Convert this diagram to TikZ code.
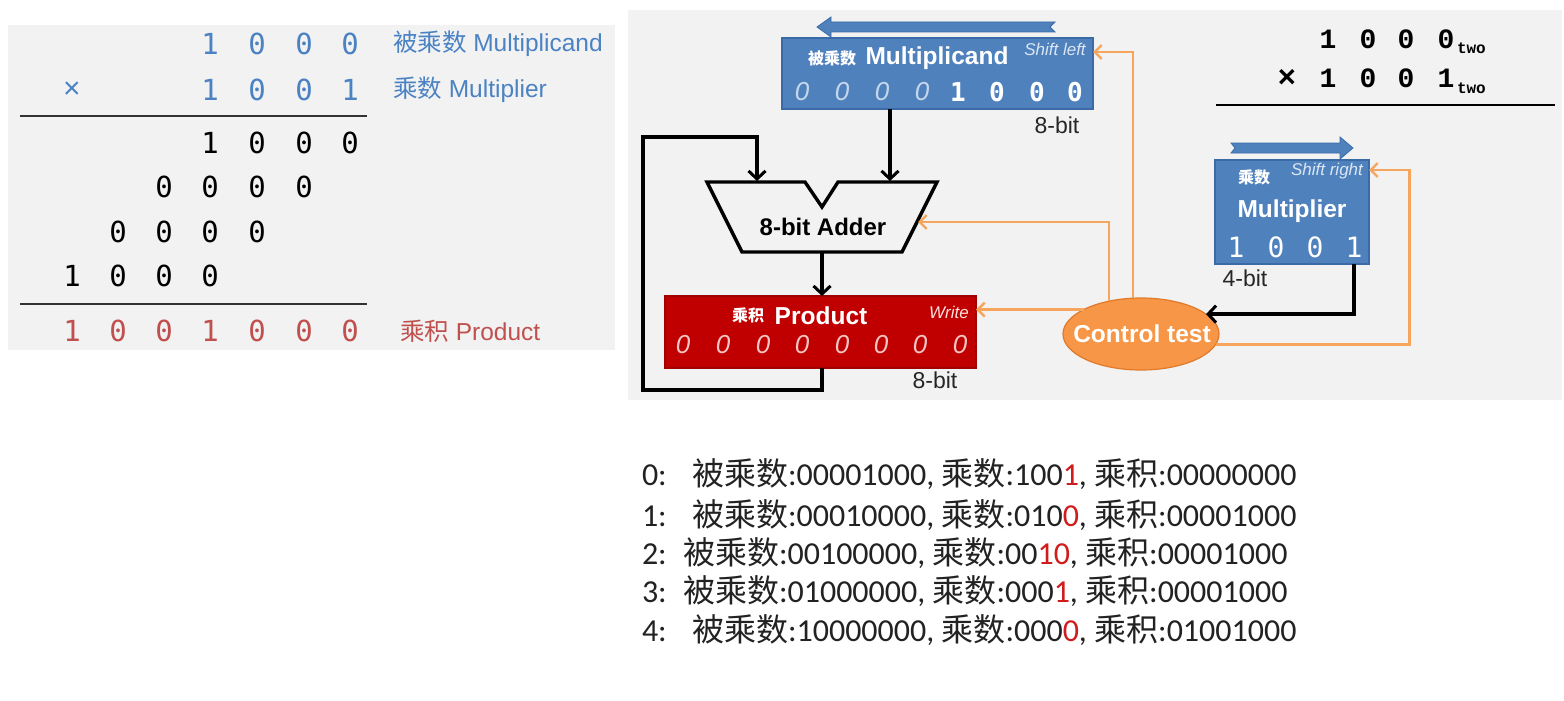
\documentclass[tikz,border=0pt]{standalone}
\usepackage{fontspec}
\setmainfont{Liberation Sans}
\newfontfamily\cjk{Noto Sans CJK SC}
\newfontfamily\monof{DejaVu Sans Mono}
\newfontfamily\courf{Liberation Mono}
\newfontfamily\calib{Carlito}
\usetikzlibrary{arrows.meta,shapes.geometric,calc}
\definecolor{bluetxt}{HTML}{4A82C3}
\definecolor{boxblue}{HTML}{4F81BD}
\definecolor{boxedge}{HTML}{3B6BA6}
\definecolor{redtxt}{HTML}{C0504D}
\definecolor{prodred}{HTML}{C00000}
\definecolor{prodedge}{HTML}{A00000}
\definecolor{ellorange}{HTML}{F79646}
\definecolor{elledge}{HTML}{E07A2A}
\definecolor{lineorange}{HTML}{F5A55C}
\definecolor{panelgray}{HTML}{F2F2F2}
\definecolor{ltblue}{HTML}{DCE6F2}
\definecolor{ltzero}{HTML}{C6D6EC}
\definecolor{ltpink}{HTML}{F2C4C4}
\definecolor{hired}{HTML}{D01C1C}
\definecolor{txtdark}{HTML}{222222}
\newcommand\fsz[1]{\fontsize{#1}{#1}\selectfont}
\newcommand\hr[1]{\textcolor{hired}{#1}}
\begin{document}
\begin{tikzpicture}[x=1pt,y=-1pt,
  every node/.style={inner sep=0pt, outer sep=0pt},
  ldig/.style={font=\monof\fsz{29}},
  bdig/.style={ldig, text=bluetxt},
  kdig/.style={ldig, text=black},
  rdig/.style={ldig, text=redtxt},
  llab/.style={anchor=west, font=\fsz{24.5}},
  regbox/.style={draw=boxedge, fill=boxblue, line width=1.2pt},
  prodbox/.style={draw=prodedge, fill=prodred, line width=1.2pt},
  boxtitle/.style={font=\bfseries\fsz{24.5}, text=white},
  boxcn/.style={font=\cjk\bfseries\fsz{16}, text=white},
  boxnote/.style={font=\itshape\fsz{17}, text=ltblue},
  itzero/.style={font=\itshape\fsz{26}},
  boxdig/.style={font=\monof\fsz{27}, text=white},
  bits/.style={font=\fsz{23}, text=black!85},
  blk/.style={draw=black, line width=3.4pt, -{Straight Barb[length=8pt,width=17pt,line width=3pt]}},
  orng/.style={draw=lineorange, line width=2.6pt, -{Straight Barb[length=7pt,width=14pt,line width=2.4pt]}},
  shiftarrow/.style={fill=boxblue, draw=boxedge, line width=0.8pt},
  trdig/.style={font=\courf\bfseries\fsz{28}},
  trsub/.style={font=\courf\bfseries\fsz{16}, anchor=west},
  logline/.style={font=\calib\fsz{32}, text=txtdark, anchor=base west}
]
\useasboundingbox (0,0) rectangle (1564,701);
\fill[white] (0,0) rectangle (1564,701);
\fill[panelgray] (8,25) rectangle (615,350);
\fill[panelgray] (628,10) rectangle (1562,400);

% ---------- left panel: long multiplication ----------
\foreach \x/\d [count=\i] in {210/1,257/0,304/0,350/0}
  \node[bdig] (ra\i) at (\x,44) {\d};
\node[font=\fsz{30}, text=bluetxt] (times) at (72,90) {×};
\foreach \x/\d [count=\i] in {210/1,257/0,304/0,350/1}
  \node[bdig] (rb\i) at (\x,90) {\d};
\node[llab, text=bluetxt] (lmcand) at (393,44) {{\cjk 被乘数} Multiplicand};
\node[llab, text=bluetxt] (lmplier) at (393,90) {{\cjk 乘数} Multiplier};
\coordinate (l1a) at (20,116);
\coordinate (l1b) at (367,116);
\draw[line width=2.2pt, black!80] (l1a) -- (l1b);
\foreach \x/\d [count=\i] in {210/1,257/0,304/0,350/0}
  \node[kdig] (rc\i) at (\x,143) {\d};
\foreach \x/\d [count=\i] in {164/0,210/0,257/0,304/0}
  \node[kdig] (rd\i) at (\x,187) {\d};
\foreach \x/\d [count=\i] in {118/0,164/0,210/0,257/0}
  \node[kdig] (re\i) at (\x,232) {\d};
\foreach \x/\d [count=\i] in {72/1,118/0,164/0,210/0}
  \node[kdig] (rf\i) at (\x,276) {\d};
\coordinate (l2a) at (20,304);
\coordinate (l2b) at (367,304);
\draw[line width=2.2pt, black!80] (l2a) -- (l2b);
\foreach \x/\d [count=\i] in {72/1,118/0,164/0,210/1,257/0,304/0,350/0}
  \node[rdig] (rg\i) at (\x,331) {\d};
\node[llab, text=redtxt] (lprod) at (400,331) {{\cjk 乘积} Product};

% ---------- multiplicand register ----------
\fill[shiftarrow] (817,27) -- (831,17) -- (831,22) -- (1055,22) -- (1050,27) -- (1055,32) -- (831,32) -- (831,37) -- cycle;
\node[regbox, minimum width=311pt, minimum height=71pt] (mcand) at (937.5,73.5) {};
\node[boxcn] (mcandcn) at (832,58) {被乘数};
\node[boxtitle] (mcandtx) at (937,58) {Multiplicand};
\node[boxnote] (mcandsl) at (1055,49) {Shift left};
\foreach \x [count=\i] in {802,842,882,922}
  \node[itzero, text=ltzero] (mz\i) at (\x,92) {0};
\foreach \x/\d [count=\i] in {958/1,997/0,1037/0,1075/0}
  \node[boxdig, font=\monof\bfseries\fsz{26}] (md\i) at (\x,92) {\d};
\node[bits] (mcandbits) at (1057,125) {8-bit};

% ---------- adder ----------
\coordinate (a1) at (707,182);
\coordinate (a2) at (805,182);
\coordinate (a3) at (822,207);
\coordinate (a4) at (838,182);
\coordinate (a5) at (937,182);
\coordinate (a6) at (902,252);
\coordinate (a7) at (742,252);
\draw[line width=3.4pt, line join=miter] (a1) -- (a2) -- (a3) -- (a4) -- (a5) -- (a6) -- (a7) -- cycle;
\node[font=\bfseries\fsz{24}] (adder) at (823,227) {8-bit Adder};
\coordinate (addinL) at (757,181);
\coordinate (addinR) at (890,181);
\coordinate (addout) at (822,252);
\coordinate (addR) at (918,222);

% ---------- product register ----------
\node[prodbox, minimum width=311pt, minimum height=72pt] (prod) at (820.5,332) {};
\node[boxcn] (prodcn) at (748,315) {乘积};
\node[boxtitle] (prodtx) at (821,316) {Product};
\node[boxnote, text=white!88!red] (prodw) at (949,312) {Write};
\foreach \x [count=\i] in {683,723,763,802,842,881,920,960}
  \node[itzero, text=ltpink] (pz\i) at (\x,345) {0};
\node[bits] (prodbits) at (935,380) {8-bit};

% ---------- multiplier register ----------
\fill[shiftarrow] (1353,148) -- (1340,137) -- (1340,143) -- (1231,143) -- (1235,148) -- (1231,153) -- (1340,153) -- (1340,159) -- cycle;
\node[regbox, minimum width=154pt, minimum height=104pt] (mplier) at (1292,212) {};
\node[boxcn] (mpliercn) at (1254,177) {乘数};
\node[boxnote] (mplsr) at (1327,171) {Shift right};
\node[boxtitle] (mpliertx) at (1292,211) {Multiplier};
\foreach \x/\d [count=\i] in {1236/1,1276/0,1315/0,1354/1}
  \node[boxdig, font=\monof\fsz{28}] (mp\i) at (\x,247) {\d};
\node[bits] (mplbits) at (1245,278) {4-bit};

% ---------- control test ----------
\node[ellipse, draw=elledge, fill=ellorange, line width=1.2pt, minimum width=156pt, minimum height=72pt] (ctrl) at (1141,334) {};
\node[font=\bfseries\fsz{24.5}, text=white] (ctrltx) at (1142,334) {Control test};

% ---------- connectors ----------
\draw[blk] (mcand.south -| addinR) -- (addinR);
\draw[blk] (addout) -- (prod.north -| addout);
\draw[blk, line join=miter] (prod.south -| addout) -- ++(0,22) -| (643,137) -| (addinL);
\draw[blk, line join=miter] ($(mplier.south east)+(-15,0)$) |- (ctrl.17);
\draw[orng, line join=miter] ($(ctrl.north)+(-8,0)$) |- ($(mcand.north east)+(0,14)$);
\draw[orng, line join=miter] ($(ctrl.north)+(-32,3)$) |- (addR);
\draw[orng] (ctrl.157) -- (prod.east |- ctrl.157);
\draw[orng, line join=miter] (ctrl.-8) -- ++(194,0) |- ($(mplier.north east)+(0,10)$);

% ---------- top right ----------
\foreach \x/\d [count=\i] in {1328/1,1368/0,1406/0,1446/0}
  \node[trdig] (ta\i) at (\x,39) {\d};
\node[trsub] (tasub) at (1457,48) {two};
\node[trdig, font=\courf\bfseries\fsz{31}] (ttimes) at (1287,78) {×};
\foreach \x/\d [count=\i] in {1328/1,1368/0,1406/0,1446/1}
  \node[trdig] (tb\i) at (\x,78) {\d};
\node[trsub] (tbsub) at (1457,88) {two};
\coordinate (tla) at (1216,105);
\coordinate (tlb) at (1555,105);
\draw[line width=2.6pt] (tla) -- (tlb);

% ---------- step log ----------
\foreach \n/\yy in {0/485,1/526,2/564,3/602,4/641}
  \node[logline] (num\n) at (642,\yy) {\n:};
\node[logline] (log0) at (692,485) {{\cjk 被乘数}:00001000, {\cjk 乘数}:100\hr{1}, {\cjk 乘积}:00000000};
\node[logline] (log1) at (692,526) {{\cjk 被乘数}:00010000, {\cjk 乘数}:010\hr{0}, {\cjk 乘积}:00001000};
\node[logline] (log2) at (683,564) {{\cjk 被乘数}:00100000, {\cjk 乘数}:00\hr{10}, {\cjk 乘积}:00001000};
\node[logline] (log3) at (683,602) {{\cjk 被乘数}:01000000, {\cjk 乘数}:000\hr{1}, {\cjk 乘积}:00001000};
\node[logline] (log4) at (692,641) {{\cjk 被乘数}:10000000, {\cjk 乘数}:000\hr{0}, {\cjk 乘积}:01001000};
\end{tikzpicture}
\end{document}
